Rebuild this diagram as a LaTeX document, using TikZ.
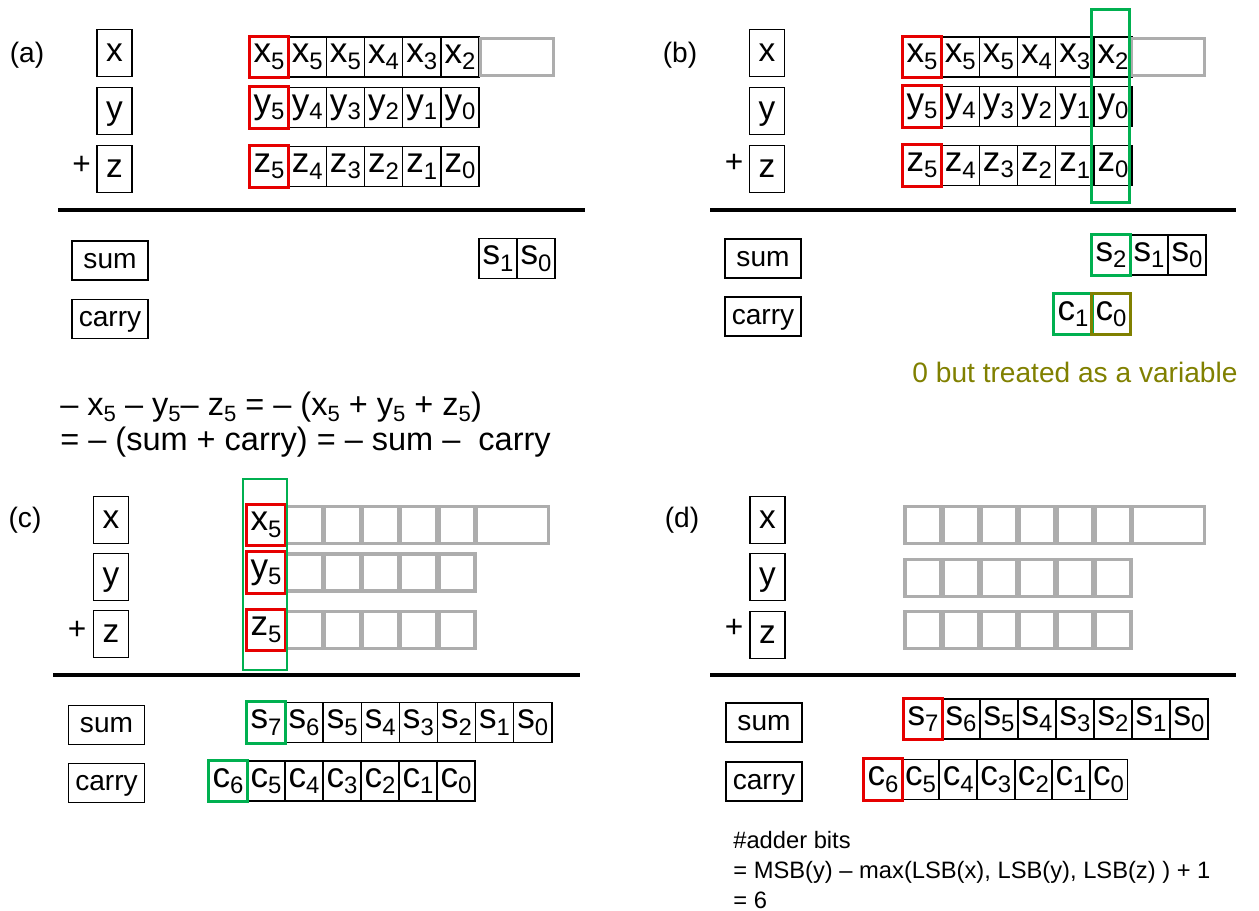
\documentclass[tikz,border=0pt]{standalone}
\usepackage{fontspec}
\setmainfont{Liberation Sans}

\definecolor{hlred}{RGB}{230,0,0}
\definecolor{hlgreen}{RGB}{0,176,80}
\definecolor{hlolive}{RGB}{128,128,0}

\newcommand{\lo}[1]{\raisebox{-0.35ex}{\scalebox{0.68}{#1}}}

\tikzset{
  tag/.style={inner sep=0, font=\fontsize{16}{18}\selectfont},
  lbl/.style={draw, line width=0.8pt, minimum width=0.7cm, minimum height=0.94cm, inner sep=0, text depth=0pt, font=\fontsize{19}{21}\selectfont},
  bit/.style={draw, line width=0.8pt, minimum width=0.764cm, minimum height=0.8cm, inner sep=0, font=\fontsize{20}{22}\selectfont},
  ghost/.style={draw=black!32, line width=1.9pt, minimum width=0.72cm, minimum height=0.74cm, inner sep=0},
  pad/.style={ghost, minimum width=1.45cm},
  word/.style={draw, line width=0.8pt, minimum width=1.52cm, minimum height=0.78cm, inner sep=0, text depth=0pt, font=\fontsize{16}{18}\selectfont},
  plus/.style={inner sep=0, anchor=base, font=\fontsize{18}{20}\selectfont},
  rule/.style={line width=2.8pt},
  redmark/.style={draw=hlred, line width=1.7pt},
  greenmark/.style={draw=hlgreen, line width=1.7pt},
  olivemark/.style={draw=hlolive, line width=1.7pt},
  eqn/.style={inner sep=0, anchor=west, font=\fontsize{18.5}{20}\selectfont},
  note/.style={inner sep=0, anchor=west, font=\fontsize{13.5}{15}\selectfont},
}

\begin{document}
\begin{tikzpicture}[x=0.02cm, y=-0.02cm]
\useasboundingbox (0,0) rectangle (1259,911);

% (a)
\node[tag] (atag) at (27,55) {(a)};
\node[lbl] (ax) at (114.5,53) {x};
\node[lbl] (ay) at (114.5,111) {y};
\node[lbl] (az) at (114.5,169) {z};
\node[plus] (aplus) at (81.5,175) {+};
\foreach \t [count=\i from 0] in {5,5,5,4,3,2}
  \node[bit] (ax\i) at (269+38.2*\i,57) {x\lo{\t}};
\node[pad] (axpad) at (517,57) {};
\foreach \t [count=\i from 0] in {5,4,3,2,1,0}
  \node[bit] (ay\i) at (269+38.2*\i,107.5) {y\lo{\t}};
\foreach \t [count=\i from 0] in {5,4,3,2,1,0}
  \node[bit] (az\i) at (269+38.2*\i,166.5) {z\lo{\t}};
\draw[redmark] (ax0.south west) rectangle (ax0.north east);
\draw[redmark] (ay0.south west) rectangle (ay0.north east);
\draw[redmark] (az0.south west) rectangle (az0.north east);
\draw[rule] (58,210) -- (585,210);
\node[word] (asum) at (110,260.5) {sum};
\node[word] (acarry) at (110,319) {carry};
\node[bit] (as1) at (498,258.5) {s\lo{1}};
\node[bit] (as0) at (536,258.5) {s\lo{0}};

% (b)
\node[tag] (btag) at (680,55) {(b)};
\node[lbl] (bx) at (767,53) {x};
\node[lbl] (by) at (767,111) {y};
\node[lbl] (bz) at (767,169) {z};
\node[plus] (bplus) at (734,173) {+};
\foreach \t [count=\i from 0] in {5,5,5,4,3,2}
  \node[bit] (bx\i) at (922+38.2*\i,57) {x\lo{\t}};
\node[pad] (bxpad) at (1168,57) {};
\foreach \t [count=\i from 0] in {5,4,3,2,1,0}
  \node[bit] (by\i) at (922+38.2*\i,106.5) {y\lo{\t}};
\foreach \t [count=\i from 0] in {5,4,3,2,1,0}
  \node[bit] (bz\i) at (922+38.2*\i,165.5) {z\lo{\t}};
\draw[redmark] (bx0.south west) rectangle (bx0.north east);
\draw[redmark] (by0.south west) rectangle (by0.north east);
\draw[redmark] (bz0.south west) rectangle (bz0.north east);
\draw[greenmark] (1091,10) rectangle (1129,203);
\draw[rule] (710,210) -- (1236,210);
\node[word] (bsum) at (763,258.5) {sum};
\node[word] (bcarry) at (763,316.5) {carry};
\node[bit] (bs2) at (1111,255) {s\lo{2}};
\node[bit] (bs1) at (1149,255) {s\lo{1}};
\node[bit] (bs0) at (1187,255) {s\lo{0}};
\draw[greenmark] (bs2.south west) rectangle (bs2.north east);
\node[bit] (bc1) at (1073,314) {c\lo{1}};
\node[bit] (bc0) at (1111,314) {c\lo{0}};
\draw[greenmark] (bc1.south west) rectangle (bc1.north east);
\draw[olivemark] (bc0.south west) rectangle (bc0.north east);
\node[inner sep=0, text=hlolive, font=\fontsize{16}{18}\selectfont] (bnote) at (1075,372) {0 but treated as a variable};

\node[eqn] (eq1) at (60,407) {\textendash{} x\lo{5} \textendash{} y\lo{5}\textendash{} z\lo{5} = \textendash{} (x\lo{5} + y\lo{5} + z\lo{5})};
\node[eqn] (eq2) at (60,442) {= \textendash{} (sum + carry) = \textendash{} sum \textendash{}\ \ carry};

% (c)
\node[tag] (ctag) at (25,520) {(c)};
\node[lbl] (cx) at (111,520) {x};
\node[lbl] (cy) at (111,577) {y};
\node[lbl] (cz) at (111,634) {z};
\node[plus] (cplus) at (77,640) {+};
\node[bit] (cx0) at (266,525) {x\lo{5}};
\node[bit] (cy0) at (266,572.5) {y\lo{5}};
\node[bit] (cz0) at (266,630) {z\lo{5}};
\foreach \i in {1,...,5} {
  \node[ghost] (cx\i) at (266+38.2*\i,525) {};
  \node[ghost] (cy\i) at (266+38.2*\i,572.5) {};
  \node[ghost] (cz\i) at (266+38.2*\i,630) {};
}
\node[pad] (cxpad) at (512.5,525) {};
\draw[redmark] (cx0.south west) rectangle (cx0.north east);
\draw[redmark] (cy0.south west) rectangle (cy0.north east);
\draw[redmark] (cz0.south west) rectangle (cz0.north east);
\draw[greenmark] (243,479) rectangle (287,670);
\draw[rule] (53,675) -- (580,675);
\node[word] (csum) at (106.5,725) {sum};
\node[word] (ccarry) at (106.5,783) {carry};
\foreach \t [count=\i from 0] in {7,6,5,4,3,2,1,0}
  \node[bit] (cs\i) at (266+38.1*\i,722.5) {s\lo{\t}};
\foreach \t [count=\i from 0] in {6,5,4,3,2,1,0}
  \node[bit] (cc\i) at (228+38*\i,781) {c\lo{\t}};
\draw[greenmark] (cs0.south west) rectangle (cs0.north east);
\draw[greenmark] (cc0.south west) rectangle (cc0.north east);

% (d)
\node[tag] (dtag) at (682,520) {(d)};
\node[lbl] (dx) at (767.5,520) {x};
\node[lbl] (dy) at (767.5,577) {y};
\node[lbl] (dz) at (767.5,635) {z};
\node[plus] (dplus) at (734,638) {+};
\foreach \i in {0,...,5} {
  \node[ghost] (dx\i) at (923+38*\i,525) {};
  \node[ghost] (dy\i) at (923+38*\i,578) {};
  \node[ghost] (dz\i) at (923+38*\i,630) {};
}
\node[pad] (dxpad) at (1168.5,525) {};
\draw[rule] (710,675) -- (1236,675);
\node[word] (dsum) at (764,722.5) {sum};
\node[word] (dcarry) at (764,781.5) {carry};
\foreach \t [count=\i from 0] in {7,6,5,4,3,2,1,0}
  \node[bit] (ds\i) at (923+38*\i,719) {s\lo{\t}};
\foreach \t [count=\i from 0] in {6,5,4,3,2,1,0}
  \node[bit] (dc\i) at (883+37.6*\i,779.5) {c\lo{\t}};
\draw[redmark] (ds0.south west) rectangle (ds0.north east);
\draw[redmark] (dc0.south west) rectangle (dc0.north east);
\node[note] (dn1) at (733,840) {\#adder bits};
\node[note] (dn2) at (733,872) {= MSB(y) \textendash{} max(LSB(x), LSB(y), LSB(z) ) + 1};
\node[note] (dn3) at (733,900) {= 6};
\end{tikzpicture}
\end{document}
